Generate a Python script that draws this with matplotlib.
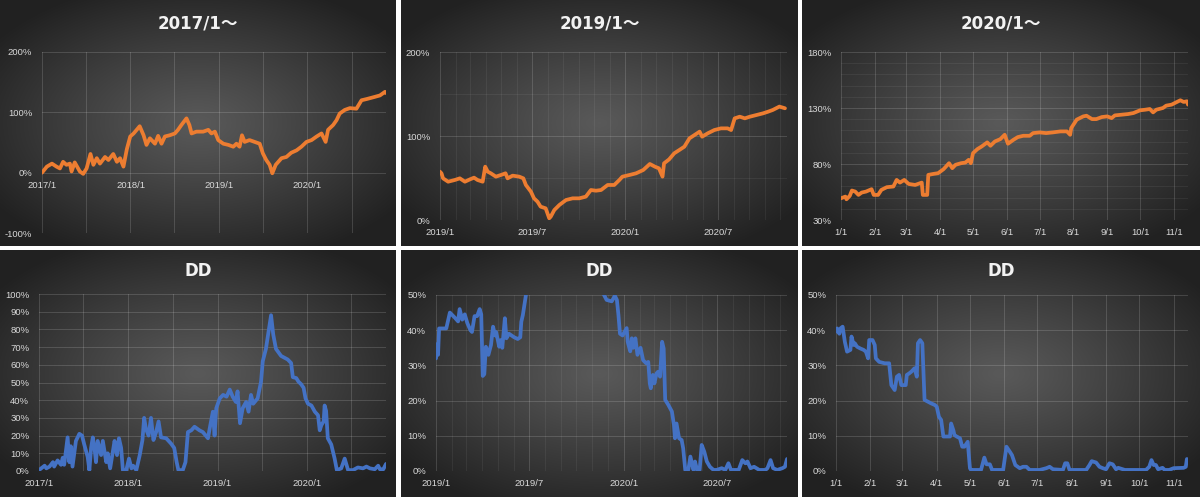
import matplotlib
matplotlib.use('AGG')
import numpy as np
import pandas as pd
import matplotlib.pyplot as plt
import matplotlib.dates as mdates
from matplotlib.ticker import MultipleLocator, FixedLocator, FuncFormatter, NullLocator

# ---- data (percent) ----
eq17_dates = ['2017-01-01', '2017-01-21', '2017-02-11', '2017-03-02', '2017-03-16', '2017-03-29', '2017-04-12',
              '2017-04-26', '2017-05-03', '2017-05-16', '2017-06-06', '2017-06-20', '2017-07-04', '2017-07-20',
              '2017-08-01', '2017-08-15', '2017-08-28', '2017-09-18', '2017-10-02', '2017-10-22', '2017-11-06',
              '2017-11-19', '2017-12-03', '2017-12-17', '2017-12-31', '2018-01-14', '2018-02-08', '2018-02-24',
              '2018-03-08', '2018-03-22', '2018-04-12', '2018-04-25', '2018-05-09', '2018-05-23', '2018-06-12',
              '2018-07-03', '2018-07-16', '2018-07-30', '2018-08-20', '2018-09-01', '2018-09-10', '2018-09-30',
              '2018-10-28', '2018-11-18', '2018-12-01', '2018-12-15', '2018-12-29', '2019-01-19', '2019-02-09',
              '2019-03-01', '2019-03-14', '2019-03-27', '2019-04-06', '2019-04-17', '2019-05-07', '2019-05-28',
              '2019-06-18', '2019-07-01', '2019-07-15', '2019-07-29', '2019-08-09', '2019-08-23', '2019-09-16',
              '2019-10-06', '2019-10-26', '2019-11-17', '2019-12-07', '2019-12-28', '2020-01-18', '2020-02-08',
              '2020-02-28', '2020-03-16', '2020-03-26', '2020-04-16', '2020-04-30', '2020-05-13', '2020-06-03',
              '2020-06-24', '2020-07-21', '2020-08-11', '2020-09-01', '2020-09-29', '2020-10-26', '2020-11-16',
              '2020-11-20']
eq17_vals = [0, 10, 15, 10, 7, 18, 13, 15, 2, 17, 2, -2, 7, 31, 13, 24, 15, 26, 21, 31, 18, 24, 10, 39, 60,
             65, 77, 62, 46, 57, 48, 61, 48, 60, 62, 65, 71, 79, 90, 79, 65, 68, 68, 71, 65, 68, 54,
             48, 46, 43, 48, 43, 62, 51, 54, 51, 48, 32, 21, 13, -1, 13, 24, 26, 33, 37, 43, 51,
             54, 60, 65, 51, 71, 79, 87, 98, 104, 107, 106, 120, 122, 125, 128, 134, 132]

eq19_dates = ['2019-01-01', '2019-01-04', '2019-01-07', '2019-01-17', '2019-01-30', '2019-02-09', '2019-02-19',
              '2019-03-01', '2019-03-09', '2019-03-16', '2019-03-26', '2019-03-31', '2019-04-05', '2019-04-11',
              '2019-04-21', '2019-05-01', '2019-05-10', '2019-05-14', '2019-05-24', '2019-06-06', '2019-06-14',
              '2019-06-19', '2019-06-29', '2019-07-05', '2019-07-12', '2019-07-18', '2019-07-28', '2019-08-04',
              '2019-08-07', '2019-08-14', '2019-08-24', '2019-09-06', '2019-09-19', '2019-10-02', '2019-10-15',
              '2019-10-25', '2019-11-04', '2019-11-14', '2019-11-27', '2019-12-10', '2019-12-20', '2019-12-26',
              '2020-01-09', '2020-01-22', '2020-02-05', '2020-02-18', '2020-02-28', '2020-03-07', '2020-03-14',
              '2020-03-17', '2020-03-27', '2020-04-06', '2020-04-16', '2020-04-26', '2020-05-06', '2020-05-16',
              '2020-05-26', '2020-05-31', '2020-06-11', '2020-06-24', '2020-07-07', '2020-07-20', '2020-07-27',
              '2020-08-03', '2020-08-13', '2020-08-23', '2020-09-02', '2020-09-15', '2020-09-28', '2020-10-08',
              '2020-10-17', '2020-10-30', '2020-11-10']
eq19_vals = [57.5, 55.5, 49.6, 45.6, 47.6, 49.6, 45.6, 48.4, 50.4, 47.6, 45.6, 63.5, 57.5, 55.6, 51.6, 53.6,
             55.6, 49.6, 52.8, 51.6, 49.6, 41.7, 33.7, 25.8, 21.8, 15.9, 13.9, 2, 4, 11.9, 17.9, 23.8, 25.8,
             25.8, 27.8, 35.7, 34.9, 35.7, 41.7, 41.7, 47.6, 51.6, 53.6, 55.6, 59.5, 66.7, 63.5, 61.5, 51.6,
             67.5, 72.2, 79.4, 83.3, 87.3, 97.2, 101.2, 105.2, 99.2, 103.2, 107.1, 109.1, 109.1, 107.1, 121,
             123, 121, 123, 125, 127, 129, 131, 135, 133]

eq20_dates = ['2020-01-01', '2020-01-05', '2020-01-06', '2020-01-09', '2020-01-11', '2020-01-14', '2020-01-17',
              '2020-01-20', '2020-01-24', '2020-01-29', '2020-01-31', '2020-02-04', '2020-02-07', '2020-02-12',
              '2020-02-18', '2020-02-21', '2020-02-24', '2020-02-28', '2020-03-03', '2020-03-09', '2020-03-15',
              '2020-03-16', '2020-03-20', '2020-03-21', '2020-03-26', '2020-03-30', '2020-04-04', '2020-04-09',
              '2020-04-12', '2020-04-15', '2020-04-20', '2020-04-24', '2020-04-27', '2020-04-29', '2020-05-01',
              '2020-05-05', '2020-05-09', '2020-05-14', '2020-05-17', '2020-05-21', '2020-05-26', '2020-05-30',
              '2020-06-02', '2020-06-07', '2020-06-11', '2020-06-16', '2020-06-22', '2020-06-25', '2020-07-01',
              '2020-07-07', '2020-07-13', '2020-07-20', '2020-07-26', '2020-07-29', '2020-07-30', '2020-08-04',
              '2020-08-10', '2020-08-13', '2020-08-18', '2020-08-22', '2020-08-27', '2020-09-01', '2020-09-05',
              '2020-09-08', '2020-09-14', '2020-09-20', '2020-09-25', '2020-10-01', '2020-10-06', '2020-10-10',
              '2020-10-13', '2020-10-16', '2020-10-22', '2020-10-25', '2020-10-30', '2020-11-02', '2020-11-07',
              '2020-11-10', '2020-11-13', '2020-11-14']
eq20_vals = [49.4, 50.9, 48.5, 51.5, 56.3, 55.4, 52.4, 54.5, 55.4, 57.5, 52.4, 52.4, 56.9, 59.3, 59.9, 65.8,
             63.4, 65.8, 62.2, 61.3, 63.4, 52.4, 52.4, 70.3, 71.2, 71.8, 75.4, 80.7, 76.3, 79.3, 80.7, 81.3,
             83.7, 80.7, 89.7, 93.3, 95.7, 99.3, 96.3, 100.1, 102.2, 106.1, 98.1, 101.6, 104, 105.2, 105.2,
             107.6, 108.2, 107.6, 108.2, 109.1, 109.1, 106.1, 112.1, 119.6, 122.5, 123.1, 120.1, 120.1, 121.9,
             122.5, 121, 123.4, 124, 124.6, 125.5, 127.9, 128.5, 129.1, 126.1, 128.5, 130, 132.1, 133, 134.5,
             136.9, 135.4, 136, 133]

dd17_dates = ['2017-01-01', '2017-01-10', '2017-01-24', '2017-01-31', '2017-02-13', '2017-02-27', '2017-03-04',
              '2017-03-18', '2017-04-01', '2017-04-08', '2017-04-14', '2017-04-28', '2017-05-05', '2017-05-11',
              '2017-05-18', '2017-06-01', '2017-06-15', '2017-06-26', '2017-07-05', '2017-07-19', '2017-07-26',
              '2017-08-02', '2017-08-09', '2017-08-16', '2017-08-22', '2017-08-29', '2017-09-12', '2017-09-19',
              '2017-10-03', '2017-10-09', '2017-10-19', '2017-10-30', '2017-11-06', '2017-11-16', '2017-11-24',
              '2017-12-03', '2017-12-10', '2017-12-24', '2018-01-04', '2018-01-14', '2018-01-21', '2018-02-03',
              '2018-02-17', '2018-02-28', '2018-03-07', '2018-03-14', '2018-03-25', '2018-04-04', '2018-04-14',
              '2018-04-25', '2018-05-05', '2018-05-15', '2018-06-05', '2018-06-25', '2018-07-08', '2018-07-18',
              '2018-07-25', '2018-08-12', '2018-08-23', '2018-09-02', '2018-09-16', '2018-09-29', '2018-10-19',
              '2018-11-02', '2018-11-23', '2018-11-30', '2018-12-13', '2018-12-20', '2018-12-27', '2019-01-10',
              '2019-01-24', '2019-02-07', '2019-02-20', '2019-03-04', '2019-03-17', '2019-03-24', '2019-04-03',
              '2019-04-14', '2019-04-28', '2019-05-08', '2019-05-18', '2019-05-27', '2019-06-14', '2019-06-28',
              '2019-07-05', '2019-07-18', '2019-07-29', '2019-08-08', '2019-08-17', '2019-08-28', '2019-09-18',
              '2019-10-15', '2019-10-29', '2019-11-05', '2019-11-19', '2019-11-28', '2019-12-09', '2019-12-19',
              '2019-12-27', '2020-01-06', '2020-01-20', '2020-02-03', '2020-02-16', '2020-02-23', '2020-03-01',
              '2020-03-10', '2020-03-14', '2020-03-20', '2020-03-27', '2020-04-10', '2020-04-24', '2020-05-03',
              '2020-05-21', '2020-06-04', '2020-06-18', '2020-07-08', '2020-07-28', '2020-08-18', '2020-09-01',
              '2020-09-15', '2020-10-05', '2020-10-19', '2020-10-26', '2020-11-09', '2020-11-20']
dd17_vals = [0.5, 1.5, 3, 1.5, 2.5, 5, 2.5, 6, 3.5, 7.5, 3.5, 19, 5, 14, 2.5, 17, 21, 20, 15, 8, 0.5, 13, 19,
             13, 5, 17, 9, 17, 5, 10, 1.5, 11, 17, 9, 18.5, 13, 0.5, 0.5, 7, 1.5, 3, 0.5, 9, 17.5, 30, 24, 20,
             30, 17.5, 22, 28, 19, 18.5, 15.5, 13, 5, 0.5, 0.5, 5, 22, 23, 25, 23, 22, 18.5, 24, 33.5, 20,
             35.5, 41, 43, 42, 46, 42, 39, 45, 27, 35.5, 39, 33.5, 43, 38, 41, 50.5, 62, 69, 79, 88, 77, 69,
             65, 63, 61, 53, 52.5, 50.5, 49, 47, 41, 38, 37, 33.5, 31.5, 23, 26, 28, 37, 34, 18.5, 15, 7,
             0.5, 1.5, 7, 0.5, 0.5, 2, 1.5, 2.5, 1.5, 1, 3, 1, 1, 4]

dd19_dates = ['2019-01-01', '2019-01-03', '2019-01-05', '2019-01-07', '2019-01-21', '2019-01-28', '2019-02-07',
              '2019-02-13', '2019-02-16', '2019-02-21', '2019-02-26', '2019-03-03', '2019-03-09', '2019-03-12',
              '2019-03-17', '2019-03-22', '2019-03-27', '2019-03-30', '2019-04-02', '2019-04-05', '2019-04-08',
              '2019-04-13', '2019-04-18', '2019-04-22', '2019-04-26', '2019-04-28', '2019-05-04', '2019-05-07',
              '2019-05-10', '2019-05-15', '2019-05-18', '2019-05-23', '2019-06-02', '2019-06-09', '2019-06-14',
              '2019-06-16', '2019-06-19', '2019-06-25', '2019-07-05', '2019-07-18', '2019-07-29', '2019-08-08',
              '2019-08-17', '2019-08-28', '2019-09-18', '2019-10-15', '2019-10-29', '2019-11-05', '2019-11-19',
              '2019-11-24', '2019-11-29', '2019-12-09', '2019-12-15', '2019-12-19', '2019-12-22', '2019-12-25',
              '2019-12-30', '2020-01-07', '2020-01-09', '2020-01-14', '2020-01-17', '2020-01-20', '2020-01-24',
              '2020-01-28', '2020-02-03', '2020-02-08', '2020-02-14', '2020-02-18', '2020-02-21', '2020-02-23',
              '2020-02-27', '2020-03-01', '2020-03-05', '2020-03-08', '2020-03-12', '2020-03-16', '2020-03-19',
              '2020-03-22', '2020-03-28', '2020-04-04', '2020-04-08', '2020-04-10', '2020-04-13', '2020-04-18',
              '2020-04-23', '2020-04-26', '2020-04-30', '2020-05-06', '2020-05-10', '2020-05-16', '2020-05-19',
              '2020-05-23', '2020-05-28', '2020-06-01', '2020-06-06', '2020-06-11', '2020-06-17', '2020-06-24',
              '2020-06-30', '2020-07-10', '2020-07-17', '2020-07-23', '2020-07-28', '2020-08-12', '2020-08-19',
              '2020-08-25', '2020-08-29', '2020-09-04', '2020-09-11', '2020-09-21', '2020-10-03', '2020-10-07',
              '2020-10-13', '2020-10-18', '2020-10-26', '2020-11-05', '2020-11-10', '2020-11-14']
dd19_vals = [32, 36, 33, 40.5, 40.5, 45, 43.5, 42.5, 46, 43, 44.5, 42, 40, 39.5, 44, 44, 46, 44.5, 27, 27.5,
             35.3, 33, 35.8, 41, 38.5, 39.5, 35.3, 37.2, 35, 43.4, 37.7, 39, 38, 37.5, 38, 42.4, 44.3, 50,
             62, 69, 79, 88, 77, 69, 65, 63, 61, 53, 52.5, 50, 48.6, 48.2, 49.8, 48.6, 44.3, 39, 38.5, 40.6,
             36.7, 34, 37.7, 35, 37.7, 33, 35, 31.5, 30.6, 31, 24.9, 23.5, 27.3, 24.9, 27.7, 28.2, 26.8, 36.7,
             34.8, 20.2, 18.8, 16.9, 13.1, 9.3, 13.5, 9.3, 8.8, 6.4, 0.3, 0.3, 4.1, 0.3, 2.7, 0.3, 0.3, 7.4,
             5.5, 2.7, 1.2, 0.3, 0.3, 0.8, 0.3, 2.2, 0.3, 0.3, 3.1, 2.2, 2.7, 0.8, 1.2, 0.3, 0.3, 0.8, 3.1,
             0.8, 0.3, 0.8, 1.2, 3.4]

dd20_dates = ['2020-01-01', '2020-01-02', '2020-01-04', '2020-01-05', '2020-01-07', '2020-01-09', '2020-01-11',
              '2020-01-14', '2020-01-15', '2020-01-17', '2020-01-18', '2020-01-20', '2020-01-23', '2020-01-26',
              '2020-01-28', '2020-01-30', '2020-01-31', '2020-02-03', '2020-02-05', '2020-02-06', '2020-02-09',
              '2020-02-14', '2020-02-18', '2020-02-20', '2020-02-23', '2020-02-25', '2020-02-27', '2020-02-29',
              '2020-03-04', '2020-03-05', '2020-03-07', '2020-03-09', '2020-03-12', '2020-03-14', '2020-03-15',
              '2020-03-17', '2020-03-19', '2020-03-21', '2020-03-24', '2020-03-27', '2020-03-30', '2020-04-01',
              '2020-04-03', '2020-04-05', '2020-04-07', '2020-04-13', '2020-04-14', '2020-04-16', '2020-04-17',
              '2020-04-19', '2020-04-22', '2020-04-24', '2020-04-26', '2020-04-29', '2020-05-01', '2020-05-02',
              '2020-05-11', '2020-05-14', '2020-05-16', '2020-05-19', '2020-05-21', '2020-05-31', '2020-06-03',
              '2020-06-06', '2020-06-08', '2020-06-11', '2020-06-15', '2020-06-18', '2020-06-21', '2020-06-24',
              '2020-07-03', '2020-07-09', '2020-07-12', '2020-07-15', '2020-07-24', '2020-07-26', '2020-07-28',
              '2020-07-30', '2020-08-14', '2020-08-17', '2020-08-19', '2020-08-23', '2020-08-26', '2020-08-29',
              '2020-09-01', '2020-09-04', '2020-09-07', '2020-09-10', '2020-09-12', '2020-09-18', '2020-10-07',
              '2020-10-10', '2020-10-12', '2020-10-14', '2020-10-16', '2020-10-18', '2020-10-22', '2020-10-24',
              '2020-10-28', '2020-11-01', '2020-11-10', '2020-11-12', '2020-11-13']
dd20_vals = [39.6, 40.5, 39, 40.5, 41, 36.7, 33.9, 34.4, 38.2, 35.8, 36.3, 35.3, 34.8, 34.4, 33.9, 32, 37.2,
             37.2, 35.8, 32, 31, 30.6, 30.6, 24.4, 23, 26.8, 27.3, 24.4, 24.4, 27.3, 27.7, 28.2, 29.2, 26.8,
             36.3, 37.2, 36.3, 20.2, 19.7, 19.2, 18.8, 18.3, 15.4, 14.5, 9.8, 9.8, 13.5, 11.6, 10.2, 9.8, 9.3,
             6.9, 6.9, 8.3, 0.8, 0.3, 0.3, 3.8, 1.9, 1.9, 0.3, 0.3, 6.9, 5.5, 4.5, 1.7, 0.8, 1.2, 1.2, 0.3,
             0.3, 0.8, 1.2, 0.5, 0.3, 2.2, 2.2, 0.3, 0.3, 1.7, 2.8, 2.4, 1.2, 0.8, 0.5, 2.2, 1.9, 0.5, 0.9,
             0.3, 0.3, 1.2, 3.1, 1.7, 1.7, 0.5, 0.9, 0.3, 0.3, 0.8, 0.9, 1.2, 3.4]

titles = ['2017/1～', '2019/1～', '2020/1～', 'DD', 'DD', 'DD']
yticks = [[-100, 0, 100, 200], [0, 100, 200], [30, 80, 130, 180],
          list(range(0, 101, 10)), list(range(0, 51, 10)), list(range(0, 51, 10))]

W, H = 1200, 497
ORANGE = '#ED7D31'
BLUE = '#4472C4'
TXT = '#D9D9D9'
TICKFONT = 'Liberation Sans'

fig = plt.figure(figsize=(W / 100, H / 100), dpi=100, facecolor='white')


def px_rect(x0, y0, x1, y1):
    return [x0 / W, 1 - y1 / H, (x1 - x0) / W, (y1 - y0) / H]


def panel_bg(x0, y0, x1, y1):
    ax = fig.add_axes(px_rect(x0, y0, x1, y1), zorder=0)
    yy, xx = np.mgrid[-1:1:200j, -1:1:300j]
    r = np.clip(np.sqrt(xx ** 2 + (yy * 1.05) ** 2) / 1.25, 0, 1)
    g = 0.35 - 0.22 * r ** 1.1
    ax.imshow(np.dstack([g, g, g]), aspect='auto', extent=[0, 1, 0, 1], interpolation='bilinear')
    ax.axis('off')


def ym_fmt(v, pos):
    d = mdates.num2date(v)
    return f'{d.year}/{d.month}'


def md_fmt(v, pos):
    d = mdates.num2date(v)
    return f'{d.month}/{d.day}'


pct_fmt = FuncFormatter(lambda v, p: f'{v:.0f}%')

panels = [(0, 0, 396, 246), (401, 0, 798, 246), (802, 0, 1200, 246),
          (0, 250, 396, 497), (401, 250, 798, 497), (802, 250, 1200, 497)]
plot_areas = [(42, 52, 386, 233), (440, 52, 787, 220), (841, 52, 1188, 220),
              (39, 294, 386, 471), (436, 295, 787, 471), (836, 295, 1188, 471)]
series = [(eq17_dates, eq17_vals, ORANGE), (eq19_dates, eq19_vals, ORANGE), (eq20_dates, eq20_vals, ORANGE),
          (dd17_dates, dd17_vals, BLUE), (dd19_dates, dd19_vals, BLUE), (dd20_dates, dd20_vals, BLUE)]
xlims = [('2017-01-01', '2020-11-20'), ('2019-01-01', '2020-11-14'), ('2020-01-01', '2020-11-14'),
         ('2017-01-01', '2020-11-20'), ('2019-01-01', '2020-11-14'), ('2020-01-01', '2020-11-14')]
ylims = [(-100, 200), (0, 200), (30, 180), (0, 100), (0, 50), (0, 50)]
yminor = [None, 50, 10, None, None, None]

for i in range(6):
    panel_bg(*panels[i])
    ax = fig.add_axes(px_rect(*plot_areas[i]), zorder=1)
    ax.set_facecolor('none')
    dates, vals, col = series[i]
    ax.plot(pd.to_datetime(dates), vals, color=col, lw=2.7,
            solid_joinstyle='round', solid_capstyle='round', zorder=3)
    ax.set_xlim(pd.to_datetime(xlims[i][0]), pd.to_datetime(xlims[i][1]))
    ax.set_ylim(*ylims[i])
    ax.yaxis.set_major_locator(FixedLocator(yticks[i]))
    if yminor[i]:
        ax.yaxis.set_minor_locator(MultipleLocator(yminor[i]))
    ax.yaxis.set_major_formatter(pct_fmt)

    if i in (0, 3):
        ax.xaxis.set_major_locator(mdates.MonthLocator(bymonth=1))
        ax.xaxis.set_minor_locator(mdates.MonthLocator(bymonth=7))
        ax.xaxis.set_major_formatter(FuncFormatter(ym_fmt))
    elif i in (1, 4):
        ax.xaxis.set_major_locator(mdates.MonthLocator(bymonth=[1, 7]))
        ax.xaxis.set_minor_locator(mdates.MonthLocator())
        ax.xaxis.set_major_formatter(FuncFormatter(ym_fmt))
    else:
        ax.xaxis.set_major_locator(mdates.MonthLocator())
        ax.xaxis.set_minor_locator(NullLocator())
        ax.xaxis.set_major_formatter(FuncFormatter(md_fmt))

    ax.grid(which='major', color='white', alpha=0.15, lw=0.7, zorder=1)
    if i in (0, 3):
        ax.grid(which='minor', color='white', alpha=0.15, lw=0.7, zorder=1)
    else:
        ax.grid(which='minor', color='white', alpha=0.07, lw=0.6, zorder=1)

    for s in ax.spines.values():
        s.set_visible(False)
    if i == 0:
        ax.spines['bottom'].set_position(('data', 0))
    ax.tick_params(which='both', length=0, colors=TXT, labelsize=6.8)
    ax.tick_params(axis='y', pad=7)
    ax.tick_params(axis='x', pad=6)
    for lab in ax.get_xticklabels() + ax.get_yticklabels():
        lab.set_fontfamily(TICKFONT)

    x0, y0, x1, y1 = panels[i]
    ty = 24 if i < 3 else 271
    fig.text(((x0 + x1) / 2) / W, 1 - ty / H, titles[i], ha='center', va='center', color='#F2F2F2',
             fontsize=12, fontweight='bold', family=['DejaVu Sans', 'Noto Sans CJK JP'])

fig.savefig('out.png', dpi=100, facecolor='white')
